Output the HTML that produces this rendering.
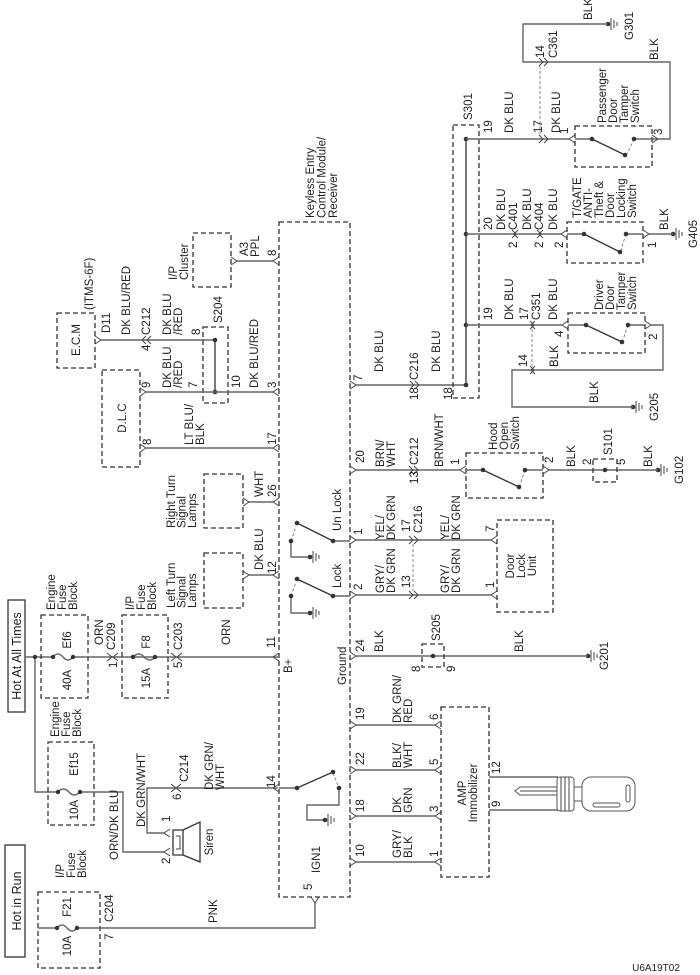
<!DOCTYPE html>
<html><head><meta charset="utf-8"><style>
html,body{margin:0;padding:0;background:#fff}
svg{display:block}
text{font-family:"Liberation Sans",sans-serif;font-size:11.5px;fill:#222}
.w{stroke:#666;stroke-width:1.4;fill:none}
.b{stroke:#333;stroke-width:1.3;fill:none;stroke-dasharray:5,3}
.s{stroke:#333;stroke-width:1.3;fill:none}
.d{stroke:#888;stroke-width:1;fill:none;stroke-dasharray:3,2}
.c{stroke:#444;stroke-width:1;fill:none}
.k{stroke:#555;stroke-width:1;fill:#fff}
</style></head><body>
<svg width="700" height="975" viewBox="0 0 700 975" xmlns="http://www.w3.org/2000/svg">
<rect width="700" height="975" fill="#fff"/>

<!-- Source boxes -->
<rect x="8" y="600" width="17" height="112" class="s"/>
<text transform="translate(21,656) rotate(-90)" text-anchor="middle" style="font-size:12.5px">Hot At All Times</text>
<rect x="5" y="845" width="20" height="112" class="s"/>
<text transform="translate(21,901) rotate(-90)" text-anchor="middle" style="font-size:12.5px">Hot in Run</text>

<!-- Hot at all times feed -->
<path class="w" d="M25 657 H53 M35 657 V792 H58"/>
<circle cx="35" cy="657" r="2.2" fill="#333"/>

<!-- Ef6 -->
<rect x="41" y="615" width="47" height="83" class="b"/>
<text transform="translate(55,610) rotate(-90)"><tspan x="0" dy="0">Engine</tspan><tspan x="0" dy="11">Fuse</tspan><tspan x="0" dy="11">Block</tspan></text>
<text transform="translate(71,640) rotate(-90)" text-anchor="middle">Ef6</text>
<text transform="translate(71,680) rotate(-90)" text-anchor="middle">40A</text>
<path class="w" d="M53 657 Q58 651 63 657 Q68 663 73 657 H278"/>
<circle cx="53" cy="657" r="2.2" fill="#333"/><circle cx="73" cy="657" r="2.2" fill="#333"/>
<text transform="translate(103,645) rotate(-90)">ORN</text>
<text transform="translate(115,650) rotate(-90)">C209</text>
<text transform="translate(117,668) rotate(-90)">1</text>
<path class="c" d="M107 653 L112 657 L107 661 M118 653 L113 657 L118 661"/>

<!-- F8 -->
<rect x="122" y="615" width="46" height="83" class="b"/>
<text transform="translate(134,610) rotate(-90)"><tspan x="0" dy="0">I/P</tspan><tspan x="0" dy="11">Fuse</tspan><tspan x="0" dy="11">Block</tspan></text>
<text transform="translate(150,642) rotate(-90)" text-anchor="middle">F8</text>
<text transform="translate(150,678) rotate(-90)" text-anchor="middle">15A</text>
<path class="w" d="M133 657 Q139 651 144 657 Q150 663 155 657"/>
<circle cx="133" cy="657" r="2.2" fill="#333"/><circle cx="155" cy="657" r="2.2" fill="#333"/>
<text transform="translate(182,650) rotate(-90)">C203</text>
<text transform="translate(182,668) rotate(-90)">5</text>
<path class="c" d="M171 653 L176 657 L171 661 M182 653 L177 657 L182 661"/>
<text transform="translate(230,645) rotate(-90)">ORN</text>
<text transform="translate(275,648) rotate(-90)">11</text>
<text transform="translate(292,673) rotate(-90)">B+</text>

<!-- Ef15 -->
<rect x="48" y="742" width="46" height="83" class="b"/>
<text transform="translate(59,737) rotate(-90)"><tspan x="0" dy="0">Engine</tspan><tspan x="0" dy="11">Fuse</tspan><tspan x="0" dy="11">Block</tspan></text>
<text transform="translate(78,764) rotate(-90)" text-anchor="middle">Ef15</text>
<text transform="translate(78,810) rotate(-90)" text-anchor="middle">10A</text>
<path class="w" d="M58 792 Q63 786 69 792 Q74 798 80 792 H123 V852 H164"/>
<circle cx="58" cy="792" r="2.2" fill="#333"/><circle cx="80" cy="792" r="2.2" fill="#333"/>
<text transform="translate(118,860) rotate(-90)">ORN/DK BLU</text>

<!-- Siren -->
<path class="w" d="M164 833 H147 V788 H278"/>
<text transform="translate(145,827) rotate(-90)">DK GRN/WHT</text>
<path class="c" d="M164 833 L170 829 M164 833 L170 837 M164 852 L170 848 M164 852 L170 856"/>
<text transform="translate(170,822) rotate(-90)">1</text>
<text transform="translate(170,864) rotate(-90)">2</text>
<path class="s" d="M173 830 H183 V855 H173 Z M183 830 L200 822 V862 L183 855"/>
<path class="c" d="M176 836 H180 V849 H176"/>
<text transform="translate(213,842) rotate(-90)" text-anchor="middle">Siren</text>
<text transform="translate(188,782) rotate(-90)">C214</text>
<text transform="translate(181,800) rotate(-90)">6</text>
<path class="c" d="M171 784 L176 788 L171 792 M181 784 L176 788 L181 792"/>
<text transform="translate(213,790) rotate(-90)"><tspan x="0" dy="0">DK GRN/</tspan><tspan x="0" dy="11">WHT</tspan></text>
<text transform="translate(275,788) rotate(-90)">14</text>

<!-- F21 -->
<rect x="38" y="892" width="62" height="76" class="b"/>
<text transform="translate(64,878) rotate(-90)"><tspan x="0" dy="0">I/P</tspan><tspan x="0" dy="11">Fuse</tspan><tspan x="0" dy="11">Block</tspan></text>
<text transform="translate(71,907) rotate(-90)" text-anchor="middle">F21</text>
<text transform="translate(71,946) rotate(-90)" text-anchor="middle">10A</text>
<path class="w" d="M38 928 H57 Q62 922 67 928 Q72 934 77 928 H315 V903"/>
<circle cx="57" cy="928" r="2.2" fill="#333"/><circle cx="77" cy="928" r="2.2" fill="#333"/>
<text transform="translate(113,922) rotate(-90)">C204</text>
<text transform="translate(113,940) rotate(-90)">7</text>
<text transform="translate(217,923) rotate(-90)">PNK</text>
<text transform="translate(312,890) rotate(-90)">5</text>
<text transform="translate(320,873) rotate(-90)">IGN1</text>
<path class="c" d="M315 903 L311 897 M315 903 L319 897"/>

<!-- Module -->
<rect x="279" y="222" width="71" height="675" class="b"/>
<text transform="translate(314,218) rotate(-90)"><tspan x="0" dy="0">Keyless Entry</tspan><tspan x="0" dy="11.5">Control Module/</tspan><tspan x="0" dy="11.5">Receiver</tspan></text>
<text transform="translate(346,685) rotate(-90)">Ground</text>

<!-- ECM -->
<rect x="57" y="313" width="38" height="55" class="b"/>
<text transform="translate(80,340) rotate(-90)" text-anchor="middle">E.C.M</text>
<text transform="translate(93,310) rotate(-90)">(ITMS-6F)</text>
<text transform="translate(110,333) rotate(-90)">D11</text>
<path class="w" d="M101 340 H215"/>
<path class="c" d="M101 340 L95 336 M101 340 L95 344"/>
<text transform="translate(130,335) rotate(-90)">DK BLU/RED</text>
<text transform="translate(150,335) rotate(-90)">C212</text>
<text transform="translate(150,351) rotate(-90)">4</text>
<path class="c" d="M146 336 L142 340 L146 344 M151 336 L147 340 L151 344"/>
<text transform="translate(171,335) rotate(-90)"><tspan x="0" dy="0">DK BLU</tspan><tspan x="0" dy="11">/RED</tspan></text>
<text transform="translate(200,335) rotate(-90)">8</text>
<rect x="203" y="327" width="25" height="76" class="b"/>
<text transform="translate(222,323) rotate(-90)">S204</text>
<path class="s" d="M215 340 V392"/>
<circle cx="215" cy="340" r="2.3" fill="#333"/><circle cx="215" cy="392" r="2.3" fill="#333"/>

<!-- DLC -->
<rect x="102" y="370" width="38" height="97" class="b"/>
<text transform="translate(126,418) rotate(-90)" text-anchor="middle">D.L.C</text>
<path class="w" d="M146 392 H273 M146 448 H273"/>
<path class="c" d="M146 392 L140 388 M146 392 L140 396 M146 448 L140 444 M146 448 L140 452"/>
<text transform="translate(150,388) rotate(-90)">9</text>
<text transform="translate(171,388) rotate(-90)"><tspan x="0" dy="0">DK BLU</tspan><tspan x="0" dy="11">/RED</tspan></text>
<text transform="translate(197,388) rotate(-90)">7</text>
<text transform="translate(240,388) rotate(-90)">10</text>
<text transform="translate(258,388) rotate(-90)">DK BLU/RED</text>
<text transform="translate(276,388) rotate(-90)">3</text>
<text transform="translate(151,445) rotate(-90)">8</text>
<text transform="translate(193,445) rotate(-90)"><tspan x="0" dy="0">LT BLU/</tspan><tspan x="0" dy="11">BLK</tspan></text>
<text transform="translate(276,445) rotate(-90)">17</text>

<!-- I/P cluster -->
<rect x="193" y="233" width="38" height="54" class="b"/>
<text transform="translate(177,280) rotate(-90)"><tspan x="0" dy="0">I/P</tspan><tspan x="0" dy="11">Cluster</tspan></text>
<path class="w" d="M237 261 H273"/>
<path class="c" d="M237 261 L231 257 M237 261 L231 265"/>
<text transform="translate(248,256) rotate(-90)">A3</text>
<text transform="translate(259,257) rotate(-90)">PPL</text>
<text transform="translate(276,256) rotate(-90)">8</text>

<!-- Turn lamps -->
<rect x="204" y="474" width="39" height="54" class="b"/>
<text transform="translate(175,528) rotate(-90)"><tspan x="0" dy="0">Right Turn</tspan><tspan x="0" dy="10.5">Signal</tspan><tspan x="0" dy="10.5">Lamps</tspan></text>
<path class="w" d="M249 502 H273"/>
<path class="c" d="M249 502 L243 498 M249 502 L243 506"/>
<text transform="translate(263,497) rotate(-90)">WHT</text>
<text transform="translate(276,497) rotate(-90)">26</text>
<rect x="204" y="553" width="39" height="55" class="b"/>
<text transform="translate(175,608) rotate(-90)"><tspan x="0" dy="0">Left Turn</tspan><tspan x="0" dy="10.5">Signal</tspan><tspan x="0" dy="10.5">Lamps</tspan></text>
<path class="w" d="M249 575 H273"/>
<path class="c" d="M249 575 L243 571 M249 575 L243 579"/>
<text transform="translate(263,570) rotate(-90)">DK BLU</text>
<text transform="translate(276,574) rotate(-90)">12</text>

<!-- module left pin marks -->
<path class="c" d="M273 261 L279 257 M273 261 L279 265 M273 392 L279 388 M273 392 L279 396 M273 448 L279 444 M273 448 L279 452 M273 502 L279 498 M273 502 L279 506 M273 575 L279 571 M273 575 L279 579 M273 657 L279 653 M273 657 L279 661 M273 788 L279 784 M273 788 L279 792"/>

<!-- internal switches -->
<g>
<path class="w" d="M333 541 H350 M291 541 V557 H310 M333 596 H350 M291 596 V613 H310"/>
<path class="s" d="M333 541 L297 523 M333 596 L297 579"/>
<path class="d" d="M291 541 L296 526 M291 596 L296 582"/>
<circle cx="333" cy="541" r="2.3" fill="#333"/><circle cx="291" cy="541" r="2.3" fill="#333"/><circle cx="297" cy="523" r="2.3" fill="#333"/>
<circle cx="333" cy="596" r="2.3" fill="#333"/><circle cx="291" cy="596" r="2.3" fill="#333"/><circle cx="297" cy="579" r="2.3" fill="#333"/>
<text transform="translate(341,531) rotate(-90)">Un Lock</text>
<text transform="translate(341,588) rotate(-90)">Lock</text>
<path class="w" d="M279 788 H297 M339 788 V805 H307 V820 H325"/>
<path class="s" d="M297 788 L333 772"/>
<path class="d" d="M333 773 L339 788"/>
<circle cx="297" cy="788" r="2.3" fill="#333"/><circle cx="333" cy="772" r="2.3" fill="#333"/><circle cx="339" cy="788" r="2.3" fill="#333"/>
</g>

<!-- grounds -->
<g fill="#333">
<circle cx="310" cy="557" r="2.3"/><circle cx="310" cy="613" r="2.3"/><circle cx="325" cy="820" r="2.3"/>
<circle cx="608" cy="24" r="2.3"/><circle cx="673" cy="234" r="2.3"/><circle cx="633" cy="407" r="2.3"/>
<circle cx="658" cy="470" r="2.3"/><circle cx="588" cy="656" r="2.3"/>
</g>
<path class="c" d="M313 551 V563 M316 553 V561 M319 555 V559 M313 607 V619 M316 609 V617 M319 611 V615 M328 814 V826 M331 816 V824 M334 818 V822
M611 18 V30 M614 20 V28 M617 22 V26 M676 228 V240 M679 230 V238 M682 232 V236 M636 401 V413 M639 403 V411 M642 405 V409
M661 464 V476 M664 466 V474 M667 468 V472 M591 650 V662 M594 652 V660 M597 654 V658"/>

<!-- module right pins -->
<path class="c" d="M356 385 L350 381 M356 385 L350 389 M356 470 L350 466 M356 470 L350 474 M356 540 L350 536 M356 540 L350 544 M356 595 L350 591 M356 595 L350 599 M356 656 L350 652 M356 656 L350 660 M356 725 L350 721 M356 725 L350 729 M356 770 L350 766 M356 770 L350 774 M356 816 L350 812 M356 816 L350 820 M356 862 L350 858 M356 862 L350 866"/>
<text transform="translate(362,381) rotate(-90)">7</text>
<text transform="translate(364,463) rotate(-90)">20</text>
<text transform="translate(362,535) rotate(-90)">1</text>
<text transform="translate(362,590) rotate(-90)">2</text>
<text transform="translate(364,652) rotate(-90)">24</text>
<text transform="translate(364,720) rotate(-90)">19</text>
<text transform="translate(364,765) rotate(-90)">22</text>
<text transform="translate(364,812) rotate(-90)">18</text>
<text transform="translate(364,857) rotate(-90)">10</text>

<!-- pin 7 to S301 -->
<path class="w" d="M356 385 H466"/>
<text transform="translate(383,372) rotate(-90)">DK BLU</text>
<text transform="translate(418,380) rotate(-90)">C216</text>
<text transform="translate(418,400) rotate(-90)">18</text>
<path class="c" d="M410 381 L414 385 L410 389 M415 381 L419 385 L415 389"/>
<text transform="translate(440,372) rotate(-90)">DK BLU</text>
<text transform="translate(452,400) rotate(-90)">18</text>
<rect x="453" y="125" width="26" height="273" class="b"/>
<text transform="translate(472,120) rotate(-90)">S301</text>
<path class="s" d="M466 139 V385"/>
<circle cx="466" cy="139" r="2.3" fill="#333"/><circle cx="466" cy="234" r="2.3" fill="#333"/><circle cx="466" cy="325" r="2.3" fill="#333"/><circle cx="466" cy="385" r="2.3" fill="#333"/>

<!-- passenger -->
<path class="w" d="M466 139 H569 M652 139 H670 V62 H523 V24 H608 M540 62 H548"/>
<path class="d" d="M540 66 V135"/>
<path class="c" d="M539 135 L543 139 L539 143 M544 135 L548 139 L544 143 M539 58 L543 62 L539 66 M544 58 L548 62 L544 66"/>
<path class="c" d="M569 139 L575 135 M569 139 L575 143 M658 139 L652 135 M658 139 L652 143"/>
<text transform="translate(492,133) rotate(-90)">19</text>
<text transform="translate(513,133) rotate(-90)">DK BLU</text>
<text transform="translate(542,133) rotate(-90)">17</text>
<text transform="translate(560,133) rotate(-90)">DK BLU</text>
<text transform="translate(568,134) rotate(-90)">1</text>
<text transform="translate(544,58) rotate(-90)">14</text>
<text transform="translate(557,58) rotate(-90)">C361</text>
<text transform="translate(592,20) rotate(-90)">BLK</text>
<text transform="translate(633,40) rotate(-90)">G301</text>
<text transform="translate(658,60) rotate(-90)">BLK</text>
<rect x="575" y="126" width="77" height="41" class="b"/>
<text transform="translate(606,123) rotate(-90)"><tspan x="0" dy="0">Passenger</tspan><tspan x="0" dy="11">Door</tspan><tspan x="0" dy="11">Tamper</tspan><tspan x="0" dy="11">Switch</tspan></text>
<path class="w" d="M575 139 H592 M634 139 H652"/>
<path class="s" d="M592 139 L625 155"/><path class="d" d="M634 139 L627 154"/>
<circle cx="592" cy="139" r="2.3" fill="#333"/><circle cx="625" cy="155" r="2.3" fill="#333"/><circle cx="634" cy="139" r="2.3" fill="#333"/>
<text transform="translate(662,135) rotate(-90)">3</text>

<!-- T/GATE -->
<path class="w" d="M466 234 H561 M649 234 H673"/>
<path class="c" d="M512 230 L516 234 L512 238 M518 230 L514 234 L518 238 M537 230 L541 234 L537 238 M543 230 L539 234 L543 238"/>
<path class="c" d="M561 234 L567 230 M561 234 L567 238 M649 234 L643 230 M649 234 L643 238"/>
<text transform="translate(492,230) rotate(-90)">20</text>
<text transform="translate(505,230) rotate(-90)">DK BLU</text>
<text transform="translate(517,230) rotate(-90)">C401</text>
<text transform="translate(517,248) rotate(-90)">2</text>
<text transform="translate(531,230) rotate(-90)">DK BLU</text>
<text transform="translate(543,230) rotate(-90)">C404</text>
<text transform="translate(543,248) rotate(-90)">2</text>
<text transform="translate(557,230) rotate(-90)">DK BLU</text>
<text transform="translate(563,248) rotate(-90)">2</text>
<rect x="567" y="222" width="76" height="41" class="b"/>
<text transform="translate(581,218) rotate(-90)"><tspan x="0" dy="0">T/GATE</tspan><tspan x="0" dy="11">ANTI-</tspan><tspan x="0" dy="11">Theft &amp;</tspan><tspan x="0" dy="11">Door</tspan><tspan x="0" dy="11">Locking</tspan><tspan x="0" dy="11">Switch</tspan></text>
<path class="w" d="M567 234 H584 M626 234 H643"/>
<path class="s" d="M584 234 L620 252"/><path class="d" d="M626 234 L621 250"/>
<circle cx="584" cy="234" r="2.3" fill="#333"/><circle cx="620" cy="252" r="2.3" fill="#333"/><circle cx="626" cy="234" r="2.3" fill="#333"/>
<text transform="translate(656,248) rotate(-90)">1</text>
<text transform="translate(668,230) rotate(-90)">BLK</text>
<text transform="translate(697,248) rotate(-90)">G405</text>

<!-- Driver -->
<path class="w" d="M466 325 H562 M651 325 H663 V370 H512 V407 H633"/>
<path class="d" d="M532 329 V366"/>
<path class="c" d="M530 321 L534 325 L530 329 M535 321 L531 325 L535 329 M530 366 L534 370 L530 374 M535 366 L531 370 L535 374"/>
<path class="c" d="M562 325 L568 321 M562 325 L568 329 M651 325 L645 321 M651 325 L645 329"/>
<text transform="translate(492,320) rotate(-90)">19</text>
<text transform="translate(513,320) rotate(-90)">DK BLU</text>
<text transform="translate(528,320) rotate(-90)">17</text>
<text transform="translate(540,320) rotate(-90)">C351</text>
<text transform="translate(557,320) rotate(-90)">DK BLU</text>
<text transform="translate(563,337) rotate(-90)">4</text>
<rect x="568" y="313" width="77" height="40" class="b"/>
<text transform="translate(603,310) rotate(-90)"><tspan x="0" dy="0">Driver</tspan><tspan x="0" dy="11">Door</tspan><tspan x="0" dy="11">Tamper</tspan><tspan x="0" dy="11">Switch</tspan></text>
<path class="w" d="M568 325 H586 M628 325 H645"/>
<path class="s" d="M586 325 L622 342"/><path class="d" d="M628 325 L623 340"/>
<circle cx="586" cy="325" r="2.3" fill="#333"/><circle cx="622" cy="342" r="2.3" fill="#333"/><circle cx="628" cy="325" r="2.3" fill="#333"/>
<text transform="translate(657,340) rotate(-90)">2</text>
<text transform="translate(527,367) rotate(-90)">14</text>
<text transform="translate(558,367) rotate(-90)">BLK</text>
<text transform="translate(598,403) rotate(-90)">BLK</text>
<text transform="translate(658,421) rotate(-90)">G205</text>

<!-- Hood -->
<path class="w" d="M356 470 H460 M549 470 H658"/>
<path class="c" d="M409 466 L413 470 L409 474 M414 466 L418 470 L414 474"/>
<text transform="translate(395,467) rotate(-90)"><tspan x="0" dy="-11">BRN/</tspan><tspan x="0" dy="11">WHT</tspan></text>
<text transform="translate(418,465) rotate(-90)">C212</text>
<text transform="translate(418,484) rotate(-90)">13</text>
<text transform="translate(443,467) rotate(-90)">BRN/WHT</text>
<text transform="translate(459,465) rotate(-90)">1</text>
<path class="c" d="M460 470 L466 466 M460 470 L466 474 M549 470 L543 466 M549 470 L543 474"/>
<rect x="466" y="453" width="77" height="45" class="b"/>
<text transform="translate(497,450) rotate(-90)"><tspan x="0" dy="0">Hood</tspan><tspan x="0" dy="11">Open</tspan><tspan x="0" dy="11">Switch</tspan></text>
<path class="w" d="M466 470 H483 M525 470 H543"/>
<path class="s" d="M483 470 L519 487"/><path class="d" d="M525 470 L520 485"/>
<circle cx="483" cy="470" r="2.3" fill="#333"/><circle cx="519" cy="487" r="2.3" fill="#333"/><circle cx="525" cy="470" r="2.3" fill="#333"/>
<text transform="translate(553,463) rotate(-90)">2</text>
<text transform="translate(575,467) rotate(-90)">BLK</text>
<text transform="translate(591,465) rotate(-90)">2</text>
<rect x="593" y="459" width="24" height="23" class="b"/>
<circle cx="605" cy="470" r="2.3" fill="#333"/>
<text transform="translate(612,455) rotate(-90)">S101</text>
<text transform="translate(625,465) rotate(-90)">5</text>
<text transform="translate(652,467) rotate(-90)">BLK</text>
<text transform="translate(683,484) rotate(-90)">G102</text>

<!-- Door lock -->
<path class="w" d="M356 540 H491 M356 595 H491"/>
<path class="d" d="M413 544 V591"/>
<path class="c" d="M409 536 L413 540 L409 544 M414 536 L418 540 L414 544 M409 591 L413 595 L409 599 M414 591 L418 595 L414 599"/>
<path class="c" d="M491 540 L497 536 M491 540 L497 544 M491 595 L497 591 M491 595 L497 599"/>
<text transform="translate(384,540) rotate(-90)"><tspan x="0" dy="0">YEL/</tspan><tspan x="0" dy="11">DK GRN</tspan></text>
<text transform="translate(410,532) rotate(-90)">17</text>
<text transform="translate(422,533) rotate(-90)">C216</text>
<text transform="translate(449,540) rotate(-90)"><tspan x="0" dy="0">YEL/</tspan><tspan x="0" dy="11">DK GRN</tspan></text>
<text transform="translate(494,532) rotate(-90)">7</text>
<text transform="translate(384,593) rotate(-90)"><tspan x="0" dy="0">GRY/</tspan><tspan x="0" dy="11">DK GRN</tspan></text>
<text transform="translate(410,588) rotate(-90)">13</text>
<text transform="translate(449,593) rotate(-90)"><tspan x="0" dy="0">GRY/</tspan><tspan x="0" dy="11">DK GRN</tspan></text>
<text transform="translate(494,588) rotate(-90)">1</text>
<rect x="497" y="520" width="56" height="92" class="b"/>
<text transform="translate(514,566) rotate(-90)" text-anchor="middle"><tspan x="0" dy="0">Door</tspan><tspan x="0" dy="11">Lock</tspan><tspan x="0" dy="11">Unit</tspan></text>

<!-- S205 -->
<path class="w" d="M356 656 H588"/>
<text transform="translate(383,652) rotate(-90)">BLK</text>
<rect x="422" y="644" width="22" height="23" class="b"/>
<circle cx="433" cy="656" r="2.3" fill="#333"/>
<text transform="translate(440,641) rotate(-90)">S205</text>
<text transform="translate(420,672) rotate(-90)">8</text>
<text transform="translate(455,672) rotate(-90)">9</text>
<text transform="translate(523,652) rotate(-90)">BLK</text>
<text transform="translate(608,670) rotate(-90)">G201</text>

<!-- Immobilizer -->
<path class="w" d="M356 725 H435 M356 770 H435 M356 816 H435 M356 862 H435"/>
<path class="c" d="M435 725 L441 721 M435 725 L441 729 M435 770 L441 766 M435 770 L441 774 M435 816 L441 812 M435 816 L441 820 M435 862 L441 858 M435 862 L441 866"/>
<text transform="translate(401,723) rotate(-90)"><tspan x="0" dy="0">DK GRN/</tspan><tspan x="0" dy="11">RED</tspan></text>
<text transform="translate(401,768) rotate(-90)"><tspan x="0" dy="0">BLK/</tspan><tspan x="0" dy="11">WHT</tspan></text>
<text transform="translate(401,813) rotate(-90)"><tspan x="0" dy="0">DK</tspan><tspan x="0" dy="11">GRN</tspan></text>
<text transform="translate(401,858) rotate(-90)"><tspan x="0" dy="0">GRY/</tspan><tspan x="0" dy="11">BLK</tspan></text>
<text transform="translate(438,720) rotate(-90)">6</text>
<text transform="translate(438,765) rotate(-90)">5</text>
<text transform="translate(438,812) rotate(-90)">3</text>
<text transform="translate(438,857) rotate(-90)">1</text>
<rect x="441" y="707" width="48" height="170" class="b"/>
<text transform="translate(466,793) rotate(-90)" text-anchor="middle"><tspan x="0" dy="0">AMP</tspan><tspan x="0" dy="11">Immobilizer</tspan></text>
<path class="w" d="M489 777 H558 M489 810 H558"/>
<text transform="translate(500,774) rotate(-90)">12</text>
<text transform="translate(500,807) rotate(-90)">9</text>
<!-- key -->
<path class="k" d="M515 791 L520 787 H560 V795 H520 Z"/>
<path class="c" d="M520 791 H558"/>
<rect x="557" y="777" width="17" height="34" rx="3" class="k"/>
<path class="c" d="M561 777 V811 M565 777 V811 M569 777 V811"/>
<rect x="574" y="787" width="8" height="14" class="k"/>
<rect x="582" y="777" width="53" height="34" rx="9" class="k"/>
<rect x="626" y="785" width="4" height="17" rx="2" class="k"/>
<rect x="593" y="803" width="27" height="4" rx="2" class="k"/>

<text x="656" y="971" text-anchor="middle" style="font-size:10px">U6A19T02</text>
</svg>
</body></html>
